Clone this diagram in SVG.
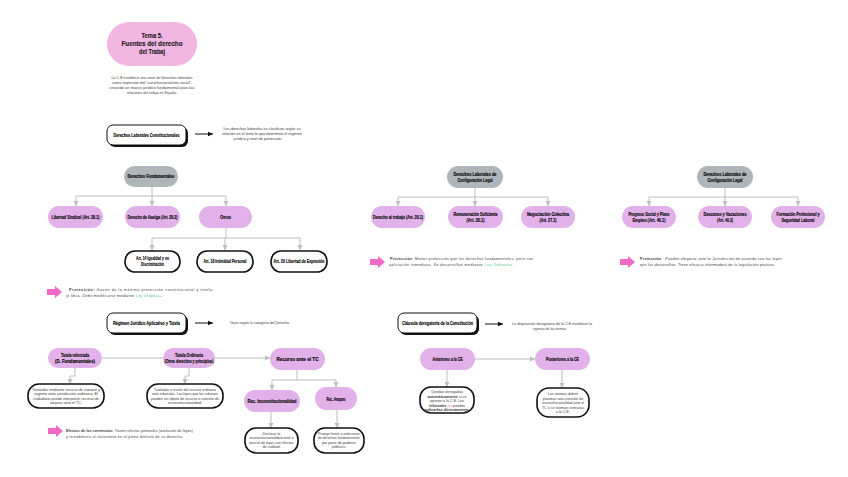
<svg xmlns="http://www.w3.org/2000/svg" width="848" height="477" viewBox="0 0 848 477">
<style>
.lbl{font-family:"Liberation Sans","DejaVu Sans",sans-serif;font-weight:bold;font-size:5.8px;fill:#000;text-anchor:middle;stroke:#000;stroke-width:0.15}
.ttl{font-family:"Liberation Sans","DejaVu Sans",sans-serif;font-weight:bold;font-size:6.5px;fill:#1a1a1a;text-anchor:middle;stroke:#1a1a1a;stroke-width:0.12}
.txt{font-family:"Liberation Sans","DejaVu Sans",sans-serif;font-size:3.7px;fill:#3a3a3a}
.c{text-anchor:middle}
.b{font-weight:bold}
.g{fill:#3cc47c}
.gray{fill:#aeb6ba}
.pink{fill:#e2b1ea}
.wbox{fill:#fff;stroke:#111;stroke-width:1.6}
.hbox{fill:#fff;stroke:#111;stroke-width:1}
.shadow{fill:#111}
.con{fill:none;stroke:#bdbdbd;stroke-width:1}
.arr{fill:none;stroke:#111;stroke-width:1}
.parrow{fill:#f06ac6}
</style>
<defs>
<marker id="ga" markerWidth="6" markerHeight="6" refX="5" refY="3" orient="auto" markerUnits="userSpaceOnUse"><path d="M0,0.5 L5,3 L0,5.5 z" fill="#bdbdbd"/></marker>
<marker id="ba" markerWidth="6" markerHeight="6" refX="5" refY="3" orient="auto" markerUnits="userSpaceOnUse"><path d="M0,0.8 L5,3 L0,5.2 z" fill="#111"/></marker>
<path id="pa" d="M0,3 H8 V0 L15,6 L8,12 V9 H0 z"/>
</defs>
<rect width="848" height="477" fill="#fff"/>

<g id="connectors">
<path class="con" d="M152,187 V196 M76,196 H226 M76,196 V206" marker-end="url(#ga)"/>
<path class="con" d="M152,196 V206" marker-end="url(#ga)"/>
<path class="con" d="M226,196 V206" marker-end="url(#ga)"/>
<path class="con" d="M226,228 V238 M152,238 H300 M152,238 V250" marker-end="url(#ga)"/>
<path class="con" d="M225,238 V250" marker-end="url(#ga)"/>
<path class="con" d="M300,238 V250" marker-end="url(#ga)"/>
<path class="con" d="M475,188 V197 M398,197 H548 M398,197 V206" marker-end="url(#ga)"/>
<path class="con" d="M475,197 V206" marker-end="url(#ga)"/>
<path class="con" d="M548,197 V206" marker-end="url(#ga)"/>
<path class="con" d="M725,188 V197 M649,197 H798 M649,197 V206" marker-end="url(#ga)"/>
<path class="con" d="M725,197 V206" marker-end="url(#ga)"/>
<path class="con" d="M798,197 V206" marker-end="url(#ga)"/>
<path class="con" d="M102,358 H163 M215,358 H270" marker-end="url(#ga)"/>
<path class="con" d="M75,368 V376 H70 V384" marker-end="url(#ga)"/>
<path class="con" d="M189,368 V376 H185 V384" marker-end="url(#ga)"/>
<path class="con" d="M297,370 V380 M272,380 H336 M272,380 V390" marker-end="url(#ga)"/>
<path class="con" d="M336,380 V387" marker-end="url(#ga)"/>
<path class="con" d="M271,412 V428" marker-end="url(#ga)"/>
<path class="con" d="M337,410 V428" marker-end="url(#ga)"/>
<path class="con" d="M475,359 H535" marker-end="url(#ga)"/>
<path class="con" d="M447,370 V387" marker-end="url(#ga)"/>
<path class="con" d="M562,370 V388" marker-end="url(#ga)"/>
<path class="arr" d="M195,134 H213" marker-end="url(#ba)"/>
<path class="arr" d="M195,323 H213" marker-end="url(#ba)"/>
<path class="arr" d="M485,324 H503" marker-end="url(#ba)"/>
</g>

<g id="title">
<rect x="107" y="22" width="90" height="44" rx="22" fill="#f1b6e2"/>
<text class="ttl" x="152" y="38" textLength="21" lengthAdjust="spacingAndGlyphs">Tema 5.</text>
<text class="ttl" x="152" y="46" textLength="61" lengthAdjust="spacingAndGlyphs">Fuentes del derecho</text>
<text class="ttl" x="152" y="54" textLength="26" lengthAdjust="spacingAndGlyphs">del Trabaj</text>
</g>
<g id="intro">
<text class="txt c" x="152" y="79" textLength="81" lengthAdjust="spacingAndGlyphs">La C.E establece una serie de Derechos laborales</text>
<text class="txt c" x="152" y="84" textLength="80" lengthAdjust="spacingAndGlyphs">como expresión del "constitucionalismo social",</text>
<text class="txt c" x="152" y="89" textLength="85" lengthAdjust="spacingAndGlyphs">creando un marco jurídico fundamental para las</text>
<text class="txt c" x="152" y="94" textLength="50" lengthAdjust="spacingAndGlyphs">relaciones del trabajo en España.</text>
</g>

<g id="dlc">
<rect class="shadow" x="109" y="127" width="79" height="20" rx="6"/>
<rect class="hbox" x="107" y="125" width="79" height="20" rx="6"/>
<text class="lbl" x="146.5" y="137" textLength="66" lengthAdjust="spacingAndGlyphs">Derechos Laborales Constitucionales</text>
</g>
<g id="dlc-note">
<text class="txt c" x="262" y="130" textLength="77" lengthAdjust="spacingAndGlyphs">Los derechos laborales se clasifican según su</text>
<text class="txt c" x="262" y="135" textLength="80" lengthAdjust="spacingAndGlyphs">relación en el texto lo que determina el régimen</text>
<text class="txt c" x="258" y="140" textLength="49" lengthAdjust="spacingAndGlyphs">jurídico y nivel de protección.</text>
</g>

<g id="df">
<rect class="gray" x="124" y="166" width="54" height="21" rx="10.5"/>
<text class="lbl" x="151" y="178.2" textLength="47" lengthAdjust="spacingAndGlyphs">Derechos Fundamentales</text>
</g>
<g id="ls">
<rect class="pink" x="48" y="206" width="55" height="22" rx="11"/>
<text class="lbl" x="75.5" y="219" textLength="48" lengthAdjust="spacingAndGlyphs">Libertad Sindical (Art. 28.1)</text>
</g>
<g id="dh">
<rect class="pink" x="125" y="206" width="55" height="22" rx="11"/>
<text class="lbl" x="152.5" y="219" textLength="50" lengthAdjust="spacingAndGlyphs">Derecho de Huelga (Art. 28.2)</text>
</g>
<g id="otros">
<rect class="pink" x="199" y="206" width="53" height="22" rx="11"/>
<text class="lbl" x="225.5" y="219" textLength="11" lengthAdjust="spacingAndGlyphs">Otros</text>
</g>
<g id="a14">
<rect class="wbox" x="125" y="251" width="55" height="21" rx="10"/>
<text class="lbl" x="152.5" y="260" textLength="33" lengthAdjust="spacingAndGlyphs">Art. 14 Igualdad y no</text>
<text class="lbl" x="152.5" y="266.2" textLength="23" lengthAdjust="spacingAndGlyphs">Discriminación</text>
</g>
<g id="a18">
<rect class="wbox" x="197" y="251" width="56" height="21" rx="10"/>
<text class="lbl" x="225" y="263.2" textLength="43" lengthAdjust="spacingAndGlyphs">Art. 18 Intimidad Personal</text>
</g>
<g id="a20">
<rect class="wbox" x="271" y="251" width="56" height="21" rx="10"/>
<text class="lbl" x="299" y="263.2" textLength="51" lengthAdjust="spacingAndGlyphs">Art. 20 Libertad de Expresión</text>
</g>
<g id="prot1">
<use href="#pa" class="parrow" x="47" y="286"/>
<text class="txt" x="69" y="291" textLength="143" lengthAdjust="spacing"><tspan class="b">Protección:</tspan> Gozan de la máxima protección constitucional y tutela</text>
<text class="txt" x="66" y="297" textLength="96" lengthAdjust="spacing">ju ídica. Debe modificarse mediante <tspan class="g">Ley Orgánica</tspan>.</text>
</g>

<g id="dlcl1">
<rect class="gray" x="447" y="166" width="56" height="22" rx="11"/>
<text class="lbl" x="475" y="175.8" textLength="43" lengthAdjust="spacingAndGlyphs">Derechos Laborales de</text>
<text class="lbl" x="475" y="182" textLength="35" lengthAdjust="spacingAndGlyphs">Configuración Legal</text>
</g>
<g id="dt">
<rect class="pink" x="371" y="206" width="54" height="22" rx="11"/>
<text class="lbl" x="398" y="219" textLength="50" lengthAdjust="spacingAndGlyphs">Derecho al trabajo (Art. 35.1)</text>
</g>
<g id="rs">
<rect class="pink" x="448" y="206" width="55" height="22" rx="11"/>
<text class="lbl" x="475.5" y="215.8" textLength="44" lengthAdjust="spacingAndGlyphs">Remuneración Suficiente</text>
<text class="lbl" x="475.5" y="222" textLength="18" lengthAdjust="spacingAndGlyphs">(Art. 35.1)</text>
</g>
<g id="nc">
<rect class="pink" x="521" y="206" width="54" height="22" rx="11"/>
<text class="lbl" x="548" y="215.8" textLength="42" lengthAdjust="spacingAndGlyphs">Negociación Colectiva</text>
<text class="lbl" x="548" y="222" textLength="17" lengthAdjust="spacingAndGlyphs">(Art. 37.1)</text>
</g>
<g id="prot2">
<use href="#pa" class="parrow" x="370" y="256"/>
<text class="txt" x="390" y="260" textLength="143" lengthAdjust="spacing"><tspan class="b">Protección</tspan>: Menor protección que los derechos fundamentales, pero con</text>
<text class="txt" x="389" y="266" textLength="124" lengthAdjust="spacing">aplicación inmediata. Se desarrollan mediante <tspan class="g">Ley Ordinaria</tspan>.</text>
</g>

<g id="dlcl2">
<rect class="gray" x="697" y="166" width="56" height="22" rx="11"/>
<text class="lbl" x="725" y="175.8" textLength="43" lengthAdjust="spacingAndGlyphs">Derechos Laborales de</text>
<text class="lbl" x="725" y="182" textLength="35" lengthAdjust="spacingAndGlyphs">Configuración Legal</text>
</g>
<g id="ps">
<rect class="pink" x="622" y="206" width="54" height="22" rx="11"/>
<text class="lbl" x="649" y="215.8" textLength="41" lengthAdjust="spacingAndGlyphs">Progreso Social y Pleno</text>
<text class="lbl" x="649" y="222" textLength="33" lengthAdjust="spacingAndGlyphs">Empleo (Art. 40.1)</text>
</g>
<g id="dv">
<rect class="pink" x="698" y="206" width="54" height="22" rx="11"/>
<text class="lbl" x="725" y="215.8" textLength="43" lengthAdjust="spacingAndGlyphs">Descanso y Vacaciones</text>
<text class="lbl" x="725" y="222" textLength="16" lengthAdjust="spacingAndGlyphs">(Art. 40.2)</text>
</g>
<g id="fp">
<rect class="pink" x="771" y="206" width="54" height="22" rx="11"/>
<text class="lbl" x="798" y="215.8" textLength="43" lengthAdjust="spacingAndGlyphs">Formación Profesional y</text>
<text class="lbl" x="798" y="222" textLength="33" lengthAdjust="spacingAndGlyphs">Seguridad Laboral</text>
</g>
<g id="prot3">
<use href="#pa" class="parrow" x="620" y="256"/>
<text class="txt" x="640" y="260" textLength="142" lengthAdjust="spacing"><tspan class="b">Protección</tspan> : Pueden alegarse ante la Jurisdicción de acuerdo con las leyes</text>
<text class="txt" x="640" y="266" textLength="135" lengthAdjust="spacing">que los desarrollan. Tiene eficacia informadora de la legislación positiva.</text>
</g>

<g id="rja">
<rect class="shadow" x="109" y="315" width="79" height="20" rx="6"/>
<rect class="hbox" x="107" y="313" width="79" height="20" rx="6"/>
<text class="lbl" x="146.5" y="325" textLength="67" lengthAdjust="spacingAndGlyphs">Régimen Jurídico Aplicativo y Tutela</text>
</g>
<text id="rja-note" class="txt" x="230" y="324" textLength="60" lengthAdjust="spacingAndGlyphs">Varía según la categoría del Derecho.</text>

<g id="tr">
<rect class="pink" x="48" y="348" width="54" height="20" rx="10"/>
<text class="lbl" x="75" y="356.5" textLength="28" lengthAdjust="spacingAndGlyphs">Tutela reforzada</text>
<text class="lbl" x="75" y="362.8" textLength="40" lengthAdjust="spacingAndGlyphs">(D. Fundamentales)</text>
</g>
<g id="to">
<rect class="pink" x="163" y="348" width="52" height="20" rx="10"/>
<text class="lbl" x="189" y="356.5" textLength="28" lengthAdjust="spacingAndGlyphs">Tutela Ordinaria</text>
<text class="lbl" x="189" y="362.8" textLength="49" lengthAdjust="spacingAndGlyphs">(Otros derechos y principios)</text>
</g>
<g id="rtc">
<rect class="pink" x="270" y="348" width="55" height="22" rx="11"/>
<text class="lbl" x="297.5" y="361" textLength="42" lengthAdjust="spacingAndGlyphs">Recurso ante el TC</text>
</g>
<g id="tr-box">
<rect class="wbox" x="28" y="384" width="76" height="24" rx="11"/>
<text class="txt c" x="66" y="390.5" textLength="68" lengthAdjust="spacingAndGlyphs">Tutelados mediante recurso de sumario y</text>
<text class="txt c" x="66" y="395" textLength="64" lengthAdjust="spacingAndGlyphs">urgente ante jurisdicción ordinaria. El</text>
<text class="txt c" x="66" y="399.5" textLength="66" lengthAdjust="spacingAndGlyphs">ciudadano puede interponer recurso de</text>
<text class="txt c" x="66" y="404" textLength="32" lengthAdjust="spacingAndGlyphs">amparo ante el TC.</text>
</g>
<g id="to-box">
<rect class="wbox" x="147" y="384" width="76" height="24" rx="11"/>
<text class="txt c" x="185" y="390.5" textLength="62" lengthAdjust="spacingAndGlyphs">Tutelados a través del recurso ordinario</text>
<text class="txt c" x="185" y="395" textLength="66" lengthAdjust="spacingAndGlyphs">ante tribunales. Las leyes que los vulneran</text>
<text class="txt c" x="185" y="399.5" textLength="68" lengthAdjust="spacingAndGlyphs">pueden ser objeto de recurso o cuestión de</text>
<text class="txt c" x="185" y="404" textLength="34" lengthAdjust="spacingAndGlyphs">inconstitucionalidad.</text>
</g>
<g id="ri">
<rect class="pink" x="244" y="390" width="56" height="22" rx="11"/>
<text class="lbl" x="272" y="403" textLength="49" lengthAdjust="spacingAndGlyphs">Rec. Inconstitucionalidad</text>
</g>
<g id="ra">
<rect class="pink" x="315" y="387" width="42" height="23" rx="11.5"/>
<text class="lbl" x="336" y="400.5" textLength="19" lengthAdjust="spacingAndGlyphs">Rec. Amparo</text>
</g>
<g id="ri-box">
<rect class="wbox" x="245" y="428" width="53" height="25" rx="11"/>
<text class="txt c" x="271.5" y="434.5">Declarar la</text>
<text class="txt c" x="271.5" y="439" textLength="44" lengthAdjust="spacingAndGlyphs">inconstitucionalidad total o</text>
<text class="txt c" x="271.5" y="443.5" textLength="44" lengthAdjust="spacingAndGlyphs">parcial de leyes con efectos</text>
<text class="txt c" x="271.5" y="448">de nulidad.</text>
</g>
<g id="ra-box">
<rect class="wbox" x="314" y="428" width="50" height="25" rx="11"/>
<text class="txt c" x="339" y="434.5" textLength="42" lengthAdjust="spacingAndGlyphs">Protege frente a violaciones</text>
<text class="txt c" x="339" y="439" textLength="42" lengthAdjust="spacingAndGlyphs">de derechos fundamentales</text>
<text class="txt c" x="339" y="443.5">por parte de poderes</text>
<text class="txt c" x="339" y="448">públicos.</text>
</g>
<g id="efectos">
<use href="#pa" class="parrow" x="48" y="425"/>
<text class="txt" x="66" y="432" textLength="127" lengthAdjust="spacing"><tspan class="b">Efectos de las sentencias</tspan>: Tienen efectos generales (anulación de leyes)</text>
<text class="txt" x="66" y="438" textLength="117" lengthAdjust="spacing">y restablecen al recurrente en el pleno disfrute de su derecho.</text>
</g>

<g id="cdc">
<rect class="shadow" x="400" y="315" width="79" height="20" rx="6"/>
<rect class="hbox" x="398" y="313" width="79" height="20" rx="6"/>
<text class="lbl" x="437.5" y="325" textLength="71" lengthAdjust="spacingAndGlyphs">Cláusula derogatoria de la Constitución</text>
</g>
<g id="cdc-note">
<text class="txt c" x="552" y="325" textLength="80" lengthAdjust="spacingAndGlyphs">La disposición derogatoria de la C.E establece la</text>
<text class="txt c" x="550" y="330" textLength="34" lengthAdjust="spacingAndGlyphs">vigencia de las normas.</text>
</g>
<g id="ant">
<rect class="pink" x="420" y="348" width="55" height="22" rx="11"/>
<text class="lbl" x="447.5" y="361" textLength="30" lengthAdjust="spacingAndGlyphs">Anteriores a la CE</text>
</g>
<g id="post">
<rect class="pink" x="535" y="348" width="55" height="22" rx="11"/>
<text class="lbl" x="562.5" y="361" textLength="33" lengthAdjust="spacingAndGlyphs">Posteriores a la CE</text>
</g>
<g id="ant-box">
<rect class="wbox" x="420" y="387" width="54" height="26" rx="11"/>
<text class="txt c" x="447" y="393">Quedan derogadas</text>
<text class="txt c" x="447" y="397.5"><tspan class="b">automáticamente</tspan> si se</text>
<text class="txt c" x="447" y="402">oponen a la C.E. Los</text>
<text class="txt c" x="447" y="406.5"><tspan class="b">tribunales</tspan> <tspan fill="#f06ac6">no</tspan> pueden</text>
<text class="txt c" x="447" y="411" textLength="46" lengthAdjust="spacingAndGlyphs"><tspan class="b">aplicarlas directamente</tspan>.</text>
</g>
<g id="post-box">
<rect class="wbox" x="537" y="388" width="52" height="29" rx="12"/>
<text class="txt c" x="563" y="395">Las normas deben</text>
<text class="txt c" x="563" y="399.5">plantear una cuestión de</text>
<text class="txt c" x="563" y="404" textLength="42" lengthAdjust="spacingAndGlyphs">inconstitucionalidad ante el</text>
<text class="txt c" x="563" y="408.5" textLength="42" lengthAdjust="spacingAndGlyphs">TC si se estiman contrarias</text>
<text class="txt c" x="563" y="413">a la C.E.</text>
</g>
</svg>
